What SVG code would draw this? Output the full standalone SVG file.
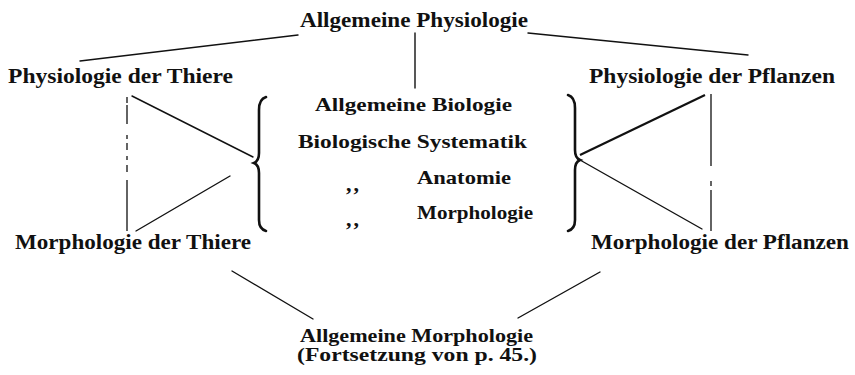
<svg xmlns="http://www.w3.org/2000/svg" width="855" height="375" viewBox="0 0 855 375">
<style>
text{font-family:"Liberation Serif","DejaVu Serif",serif;font-weight:bold;fill:#111;}
.big{font-size:20px;}
.mid{font-size:19px;}
.bot{font-size:19px;}
.q{font-size:22px;letter-spacing:2px;}
.ln{stroke:#111;stroke-width:1.4;fill:none;stroke-linecap:round;}
.th{stroke:#111;stroke-width:2.2;fill:none;}
.brk{stroke:#111;stroke-width:1.3;fill:none;}
.brace{stroke:#111;stroke-width:2.6;fill:none;stroke-linecap:round;}
</style>
<rect width="855" height="375" fill="#fff"/>
<g id="connectors">
<line class="ln" x1="298" y1="35" x2="80" y2="61"/>
<line class="ln" x1="415" y1="33" x2="415" y2="88"/>
<line class="ln" x1="528" y1="33" x2="748" y2="55"/>
<path class="brk" d="M127 97 V103 M127 105 V124 M127 135 V139 M127 143 V150 M127 156 V160 M127 165 V172 M127 180 V231"/>
<line class="ln" x1="132" y1="96" x2="253" y2="157"/>
<line class="ln" x1="230" y1="176" x2="136" y2="231"/>
<path class="brk" d="M711 94 V166 M711 181 V186 M711 190 V231"/>
<line class="th" x1="580" y1="155" x2="705" y2="95"/>
<line class="ln" x1="580" y1="160" x2="702" y2="229"/>
<line class="ln" x1="232" y1="271" x2="313" y2="319"/>
<line class="ln" x1="600" y1="272" x2="518" y2="318"/>
</g>
<g id="brace-left"><path class="brace" d="M266 97 Q259 99 259 110 L259 153 Q259 161 254 163 Q259 165 259 173 L259 220 Q259 229 266 231"/></g>
<g id="brace-right"><path class="brace" d="M568 95 Q575 97 575 108 L575 150 Q575 158 580 160 Q575 162 575 170 L575 220 Q575 229 568 231"/></g>
<g id="allg-physiologie"><text class="big" x="300" y="27" textLength="228" lengthAdjust="spacingAndGlyphs">Allgemeine Physiologie</text></g>
<g id="phys-thiere"><text class="big" x="8" y="83" textLength="225" lengthAdjust="spacingAndGlyphs">Physiologie der Thiere</text></g>
<g id="phys-pflanzen"><text class="big" x="589" y="83" textLength="246" lengthAdjust="spacingAndGlyphs">Physiologie der Pflanzen</text></g>
<g id="morph-thiere"><text class="big" x="15" y="249" textLength="236" lengthAdjust="spacingAndGlyphs">Morphologie der Thiere</text></g>
<g id="morph-pflanzen"><text class="big" x="591" y="249" textLength="258" lengthAdjust="spacingAndGlyphs">Morphologie der Pflanzen</text></g>
<g id="center-list">
<text class="mid" x="315" y="111" textLength="197" lengthAdjust="spacingAndGlyphs">Allgemeine Biologie</text>
<text class="mid" x="298" y="148" textLength="229" lengthAdjust="spacingAndGlyphs">Biologische Systematik</text>
<text class="q" x="346" y="191">,,</text>
<text class="mid" x="417" y="184" textLength="94" lengthAdjust="spacingAndGlyphs">Anatomie</text>
<text class="q" x="346" y="226">,,</text>
<text class="mid" x="417" y="219" textLength="116" lengthAdjust="spacingAndGlyphs">Morphologie</text>
</g>
<g id="allg-morphologie">
<text class="bot" x="300" y="342" textLength="233" lengthAdjust="spacingAndGlyphs">Allgemeine Morphologie</text>
<text class="bot" x="297" y="361" textLength="240" lengthAdjust="spacingAndGlyphs">(Fortsetzung von p. 45.)</text>
</g>
</svg>
